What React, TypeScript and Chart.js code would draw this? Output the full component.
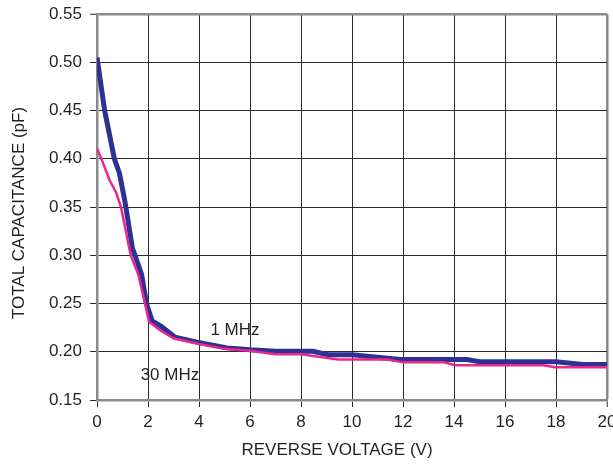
import React, { useEffect, useRef } from "react";
import { Chart, registerables } from "chart.js";

Chart.register(...registerables);

// ---- data ----
const xTickValues = [0, 2, 4, 6, 8, 10, 12, 14, 16, 18, 20];
const yTickValues = [0.15, 0.2, 0.25, 0.3, 0.35, 0.4, 0.45, 0.5, 0.55];

const seriesNames = ["1 MHz", "30 MHz"];

const voltage1MHz = [0, 0.3, 0.68, 0.88, 1.1, 1.39, 1.49, 1.75, 1.94, 2.16, 2.53, 3.06, 3.92, 5.1, 6.0, 7.0, 8.47, 9.06, 10.0, 11.9, 14.5, 15.0, 18.0, 19.06, 20];
const cap1MHz = [0.505, 0.45, 0.4, 0.385, 0.355, 0.307, 0.3, 0.28, 0.25, 0.232, 0.226, 0.215, 0.21, 0.204, 0.202, 0.2005, 0.2005, 0.197, 0.197, 0.192, 0.192, 0.1896, 0.1896, 0.1867, 0.1867];

const voltage30MHz = [0, 0.23, 0.49, 0.75, 0.94, 1.32, 1.62, 1.88, 2.04, 2.49, 3.0, 4.0, 5.0, 6.0, 7.0, 8.0, 9.45, 11.4, 12.0, 13.6, 14.05, 17.5, 17.96, 20];
const cap30MHz = [0.411, 0.396, 0.378, 0.365, 0.35, 0.3, 0.28, 0.25, 0.231, 0.222, 0.214, 0.208, 0.203, 0.201, 0.1975, 0.1975, 0.192, 0.192, 0.189, 0.189, 0.186, 0.186, 0.184, 0.184];

const xTitle = "REVERSE VOLTAGE (V)";
const yTitle = "TOTAL CAPACITANCE (pF)";

// annotation anchors in data units
const label1MHzAt = { x: 5.41, y: 0.2225 };
const label30MHzAt = { x: 2.86, y: 0.176 };

const FONT = '"Liberation Sans", Arial, sans-serif';
const TEXT = "#231f20";
const BLUE = "#2e3192";
const PINK = "#ec268f";
const GRID = "#2a2a2a";
const EDGE = "#8a8a8a";

const textPlugin = {
  id: "textPlugin",
  afterDraw(chart: any) {
    const { ctx, scales } = chart;
    const x = scales.x;
    const y = scales.y;
    ctx.save();
    ctx.fillStyle = TEXT;
    ctx.font = `17px ${FONT}`;
    ctx.textAlign = "center";
    ctx.textBaseline = "middle";
    ctx.fillText(xTitle, 337, 450);
    ctx.fillText(seriesNames[0], x.getPixelForValue(label1MHzAt.x), y.getPixelForValue(label1MHzAt.y));
    ctx.fillText(seriesNames[1], x.getPixelForValue(label30MHzAt.x), y.getPixelForValue(label30MHzAt.y));
    ctx.translate(19, 213);
    ctx.rotate(-Math.PI / 2);
    ctx.fillText(yTitle, 0, 0);
    ctx.restore();
  },
};

export default function App() {
  const ref = useRef<HTMLCanvasElement | null>(null);

  useEffect(() => {
    if (!ref.current) return;
    const chart = new Chart(ref.current, {
      type: "scatter",
      data: {
        datasets: [
          {
            label: seriesNames[1],
            data: voltage30MHz.map((v, i) => ({ x: v, y: cap30MHz[i] })),
            showLine: true,
            borderColor: PINK,
            backgroundColor: PINK,
            borderWidth: 2.5,
            pointRadius: 0,
            tension: 0,
            order: 0,
          },
          {
            label: seriesNames[0],
            data: voltage1MHz.map((v, i) => ({ x: v, y: cap1MHz[i] })),
            showLine: true,
            borderColor: BLUE,
            backgroundColor: BLUE,
            borderWidth: 5,
            pointRadius: 0,
            tension: 0,
            order: 1,
          },
        ],
      },
      options: {
        animation: false,
        responsive: true,
        maintainAspectRatio: false,
        layout: { padding: { left: 0, top: 14, right: 6, bottom: 0 } },
        plugins: { legend: { display: false }, tooltip: { enabled: false } },
        scales: {
          x: {
            type: "linear",
            min: 0,
            max: 20,
            afterBuildTicks: (s: any) => {
              s.ticks = xTickValues.map((v) => ({ value: v }));
            },
            afterFit: (s: any) => {
              s.height = 66;
              s.paddingLeft = 0;
              s.paddingRight = 0;
            },
            ticks: {
              color: TEXT,
              font: { family: FONT, size: 17 },
              padding: 5,
              maxRotation: 0,
              autoSkip: false,
            },
            grid: {
              color: (c: any) => (c.tick && c.tick.value === 20 ? EDGE : GRID),
              lineWidth: (c: any) => (c.tick && c.tick.value === 20 ? 2.5 : 1),
              tickColor: GRID,
              tickLength: 7,
              tickWidth: 1,
            },
            border: { color: EDGE, width: 2.5 },
          },
          y: {
            type: "linear",
            min: 0.15,
            max: 0.55,
            afterBuildTicks: (s: any) => {
              s.ticks = yTickValues.map((v) => ({ value: v }));
            },
            afterFit: (s: any) => {
              s.width = 97;
              s.paddingTop = 0;
              s.paddingBottom = 0;
            },
            ticks: {
              color: TEXT,
              font: { family: FONT, size: 17 },
              padding: 8,
              autoSkip: false,
              callback: (v: any) => Number(v).toFixed(2),
            },
            grid: {
              color: (c: any) => (c.tick && Math.abs(c.tick.value - 0.55) < 1e-6 ? EDGE : GRID),
              lineWidth: (c: any) => (c.tick && Math.abs(c.tick.value - 0.55) < 1e-6 ? 2.5 : 1),
              tickColor: GRID,
              tickLength: 7,
              tickWidth: 1,
            },
            border: { color: EDGE, width: 2.5 },
          },
        },
      },
      plugins: [textPlugin],
    });
    return () => chart.destroy();
  }, []);

  return (
    <div style={{ position: "fixed", left: 0, top: 0, width: 613, height: 466, background: "#fff" }}>
      <canvas ref={ref} />
    </div>
  );
}
